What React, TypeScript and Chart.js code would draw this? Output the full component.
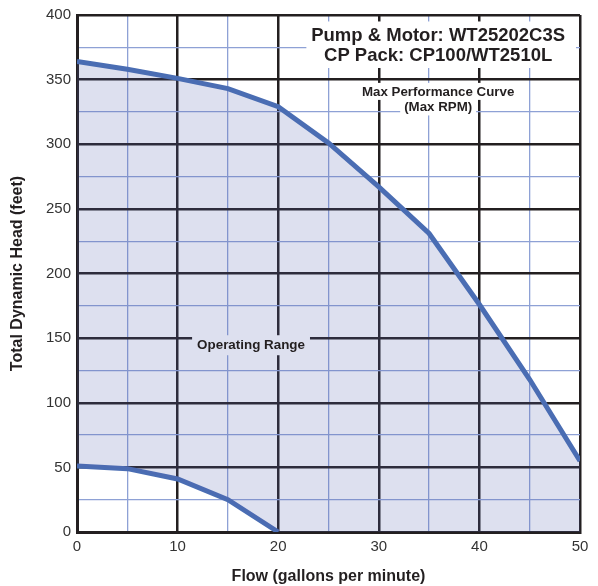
import React, { useEffect, useRef } from "react";
import { Chart, registerables } from "chart.js";

Chart.register(...registerables);

const maxFlow = [0, 5, 10, 15, 20, 25, 30, 35, 40, 45, 50];
const maxHead = [364, 358, 351, 343, 329, 301, 267, 231, 176, 118, 55];
const minFlow = [0, 5, 10, 15, 20];
const minHead = [51, 49, 41, 25, 0];
const boundaryFlow = [0, 5, 10, 15, 20, 25, 30, 35, 40, 45, 50];
const boundaryHead = [51, 49, 41, 25, 0, 0, 0, 0, 0, 0, 0];
const xTitle = "Flow (gallons per minute)";
const yTitle = "Total Dynamic Head (feet)";
const titleLines = ["Pump & Motor: WT25202C3S", "CP Pack: CP100/WT2510L"];
const curveLabel = ["Max Performance Curve", "(Max RPM)"];
const rangeLabel = "Operating Range";

const FONT = "'Liberation Sans', Arial, Helvetica, sans-serif";

const annotations = {
  id: "annotations",
  afterDatasetsDraw(chart: any) {
    const ctx = chart.ctx as CanvasRenderingContext2D;
    const xs = chart.scales.x;
    const ys = chart.scales.y;
    ctx.save();
    ctx.textAlign = "center";
    ctx.textBaseline = "middle";
    // title box
    ctx.fillStyle = "#ffffff";
    const bx1 = xs.getPixelForValue(22.8);
    const bx2 = xs.getPixelForValue(49.6);
    const by1 = ys.getPixelForValue(395);
    const by2 = ys.getPixelForValue(359);
    ctx.fillRect(bx1, by1, bx2 - bx1, by2 - by1);
    ctx.fillStyle = "#231f20";
    ctx.font = `bold 18.5px ${FONT}`;
    const cx = xs.getPixelForValue(35.9);
    ctx.fillText(titleLines[0], cx, ys.getPixelForValue(383.5));
    ctx.fillText(titleLines[1], cx, ys.getPixelForValue(368));

    // max performance curve label
    ctx.font = `bold 13.3px ${FONT}`;
    const ly1 = ys.getPixelForValue(340.5);
    const ly2 = ys.getPixelForValue(328.5);
    [curveLabel[0], curveLabel[1]].forEach((t, i) => {
      const w = ctx.measureText(t).width;
      const y = i === 0 ? ly1 : ly2;
      ctx.fillStyle = "#ffffff";
      ctx.fillRect(cx - w / 2 - 4, y - 9, w + 8, 17);
      ctx.fillStyle = "#231f20";
      ctx.fillText(t, cx, y);
    });

    // operating range
    ctx.font = `bold 13.4px ${FONT}`;
    const ox = xs.getPixelForValue(17.3);
    const oy = ys.getPixelForValue(144.5);
    const ow = ctx.measureText(rangeLabel).width;
    ctx.fillStyle = "#dde0ef";
    ctx.fillRect(ox - ow / 2 - 5, oy - 10, ow + 10, 20);
    ctx.fillStyle = "#231f20";
    ctx.fillText(rangeLabel, ox, oy);
    ctx.restore();
  },
};

export default function App() {
  const ref = useRef<HTMLCanvasElement>(null);
  useEffect(() => {
    document.body.style.margin = "0";
    const canvas = ref.current!;
    const chart = new Chart(canvas, {
      type: "line",
      data: {
        datasets: [
          {
            data: maxFlow.map((x, i) => ({ x, y: maxHead[i] })),
            borderColor: "#4a6db3",
            borderWidth: 5,
            pointRadius: 0,
            fill: { target: 2, above: "rgba(85,100,175,0.2)", below: "rgba(0,0,0,0)" },
            tension: 0,
          },
          {
            data: minFlow.map((x, i) => ({ x, y: minHead[i] })),
            borderColor: "#4a6db3",
            borderWidth: 5,
            pointRadius: 0,
            fill: false,
            tension: 0,
          },
          {
            data: boundaryFlow.map((x, i) => ({ x, y: boundaryHead[i] })),
            borderWidth: 0,
            borderColor: "rgba(0,0,0,0)",
            pointRadius: 0,
            fill: false,
          },
        ],
      },
      options: {
        animation: false,
        responsive: false,
        maintainAspectRatio: false,
        layout: { padding: { left: 0, right: 18, top: 11, bottom: 0 } },
        plugins: { legend: { display: false }, tooltip: { enabled: false } },
        scales: {
          x: {
            type: "linear",
            min: 0,
            max: 50,
            afterFit: (s: any) => {
              s.height = 54;
            },
            ticks: {
              stepSize: 5,
              autoSkip: false,
              maxRotation: 0,
              padding: 6,
              color: "#333333",
              font: { family: FONT, size: 15 },
              callback: (v: any) => (Number(v) % 10 === 0 ? String(v) : ""),
            },
            grid: {
              drawTicks: false,
              color: (c: any) => (c.tick && c.tick.value % 10 === 0 ? "#231f20" : "#8ea1d5"),
              lineWidth: (c: any) => (c.tick && c.tick.value % 10 === 0 ? 2.5 : 1.3),
            },
            border: { color: "#231f20", width: 3 },
            title: {
              display: true,
              text: xTitle,
              color: "#231f20",
              font: { family: FONT, size: 16, weight: "bold" },
              padding: { top: 4, bottom: 0 },
            },
          },
          y: {
            type: "linear",
            min: 0,
            max: 400,
            afterFit: (s: any) => {
              s.width = 77;
            },
            ticks: {
              stepSize: 25,
              autoSkip: false,
              padding: 6,
              color: "#333333",
              font: { family: FONT, size: 15 },
              callback: (v: any) => (Number(v) % 50 === 0 ? String(v) : ""),
            },
            grid: {
              drawTicks: false,
              color: (c: any) => (c.tick && c.tick.value % 50 === 0 ? "#231f20" : "#8ea1d5"),
              lineWidth: (c: any) => (c.tick && c.tick.value % 50 === 0 ? 2.5 : 1.3),
            },
            border: { color: "#231f20", width: 3 },
            title: {
              display: true,
              text: yTitle,
              color: "#231f20",
              font: { family: FONT, size: 16, weight: "bold" },
              padding: { top: 8, bottom: 0 },
            },
          },
        },
      },
      plugins: [annotations],
    });
    return () => chart.destroy();
  }, []);
  return (
    <div style={{ width: 598, height: 586 }}>
      <canvas ref={ref} width={598} height={586} style={{ display: "block" }} />
    </div>
  );
}
